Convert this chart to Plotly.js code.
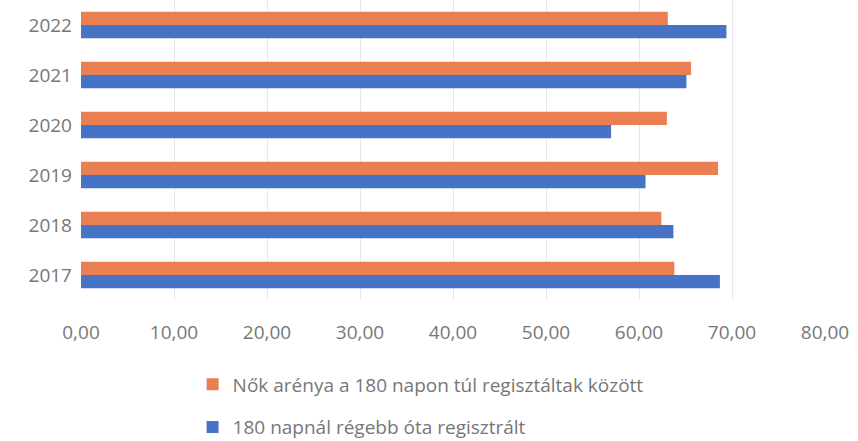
<!DOCTYPE html>
<html>
<head>
<meta charset="utf-8">
<script src="https://cdn.plot.ly/plotly-3.0.1.min.js"></script>
<style>html,body{margin:0;padding:0;background:#fff;}</style>
</head>
<body>
<div id="chart" style="width:858px;height:441px;"></div>
<script>
const years = ['2017', '2018', '2019', '2020', '2021', '2022'];
const seriesNames = ['Nők arénya a 180 napon túl regisztáltak között', '180 napnál régebb óta regisztrált'];
const womenShare = [63.8, 62.4, 68.5, 63.0, 65.6, 63.1];
const longTerm = [68.7, 63.7, 60.7, 57.0, 65.1, 69.4];
const xTicks = [0, 10, 20, 30, 40, 50, 60, 70, 80];

const fontFam = 'Open Sans, Lato, sans-serif';
const txtColor = '#777777';

const traces = [
  {type: 'bar', orientation: 'h', name: seriesNames[1], y: years, x: longTerm,
   marker: {color: '#4673C5'}, legendgroup: 'b', legendrank: 2, hoverinfo: 'x+y'},
  {type: 'bar', orientation: 'h', name: seriesNames[0], y: years, x: womenShare,
   marker: {color: '#EA8052'}, legendgroup: 'a', legendrank: 1, hoverinfo: 'x+y'}
];

const layout = {
  width: 858, height: 441,
  margin: {l: 81, r: 33, t: 0, b: 141, pad: 0, autoexpand: false},
  paper_bgcolor: '#ffffff', plot_bgcolor: '#ffffff',
  separators: ', ',
  barmode: 'group', bargap: 0.47, bargroupgap: 0,
  font: {family: fontFam, size: 19, color: txtColor},
  xaxis: {
    range: [0, 80], tickvals: xTicks, tickformat: '.2f',
    showgrid: true, gridcolor: '#e8e8e8', gridwidth: 1, automargin: false,
    zeroline: false, showline: false, ticks: '', ticklabelstandoff: 19,
    tickfont: {family: fontFam, size: 19, color: txtColor}, fixedrange: true
  },
  yaxis: {
    type: 'category', categoryorder: 'array', categoryarray: years,
    showgrid: false, zeroline: false, showline: false, ticks: '', automargin: false,
    ticklabelstandoff: 8,
    tickfont: {family: fontFam, size: 19, color: txtColor}, fixedrange: true
  },
  showlegend: true,
  legend: {
    orientation: 'v', x: 0.15, xanchor: 'left', y: -0.218, yanchor: 'top',
    traceorder: 'grouped', tracegroupgap: 15,
    font: {family: fontFam, size: 19, color: txtColor},
    bgcolor: 'rgba(0,0,0,0)'
  }
};

Plotly.newPlot('chart', traces, layout, {displayModeBar: false, staticPlot: true});
</script>
</body>
</html>
